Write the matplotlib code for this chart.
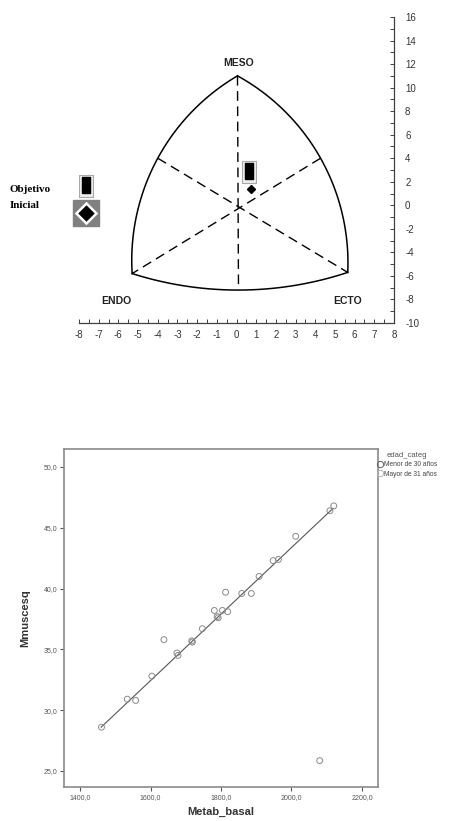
"""Somatocarta (objetivo / inicial) y dispersión Metab_basal vs Mmuscesq"""
import numpy as np
import matplotlib
matplotlib.use('Agg')
import matplotlib.pyplot as plt
from matplotlib.ticker import MultipleLocator, FuncFormatter
from matplotlib.lines import Line2D

plt.rcParams['font.family'] = ['Liberation Sans', 'DejaVu Sans']
plt.rcParams['axes.unicode_minus'] = False

# ---- somatocarta: vértices y puntos medios del contorno ----
apex_meso = (0.05, 11.0)
esq_endo = (-5.3, -5.8)
esq_ecto = (5.65, -5.7)
medio_izq = (-4.0, 4.0)
medio_der = (4.27, 4.0)
medio_inf = (0.1, -7.2)
base_vertical = (0.1, -6.8)

# somatotipos
objetivo_x, objetivo_y = [0.62], [2.8]
inicial_x, inicial_y = [0.72], [1.36]

etiquetas = ['MESO', 'ENDO', 'ECTO']
etiq_x = [0.1, -6.1, 5.65]
etiq_y = [12.1, -8.15, -8.15]

# ---- dispersión ----
metab_basal = [1461, 1534, 1558, 1604, 1638, 1675, 1678, 1717, 1719, 1747,
               1781, 1789, 1792, 1804, 1813, 1819, 1859, 1886, 1908, 1948,
               1963, 2012, 2109, 2120, 2080]
mmuscesq = [28.6, 30.9, 30.8, 32.8, 35.8, 34.7, 34.5, 35.7, 35.6, 36.7,
            38.2, 37.7, 37.6, 38.2, 39.7, 38.1, 39.6, 39.6, 41.0, 42.3,
            42.4, 44.3, 46.4, 46.8, 25.85]
recta_x = [1460, 2118]
recta_y = [28.6, 46.6]
grupos = ['Menor de 30 años', 'Mayor de 31 años']


def arco(ax, p0, pm, p1, n=120):
    """arco de circunferencia (en pantalla) que pasa por tres puntos"""
    T = ax.transData
    a, b, c = T.transform([p0, pm, p1])
    A = 2 * np.array([b - a, c - a])
    rhs = [b @ b - a @ a, c @ c - a @ a]
    cen = np.linalg.solve(A, rhs)
    r = np.hypot(*(a - cen))
    t0 = np.arctan2(*(a - cen)[::-1])
    tm = np.arctan2(*(b - cen)[::-1])
    t1 = np.arctan2(*(c - cen)[::-1])
    d1 = (t1 - t0) % (2 * np.pi)
    dm = (tm - t0) % (2 * np.pi)
    if dm > d1:
        d1 = d1 - 2 * np.pi
    t = t0 + np.linspace(0, d1, n)
    pts = np.column_stack([cen[0] + r * np.cos(t), cen[1] + r * np.sin(t)])
    return T.inverted().transform(pts)


fig = plt.figure(figsize=(4.57, 8.21), dpi=100)

# === arriba: somatocarta ===
ax = fig.add_axes([79 / 457, 1 - 323 / 821, 315 / 457, 306 / 821])
ax.set_xlim(-8, 8)
ax.set_ylim(-10, 16)
for s in ['left', 'top']:
    ax.spines[s].set_visible(False)
for s in ['bottom', 'right']:
    ax.spines[s].set_color('#404040')
    ax.spines[s].set_linewidth(0.9)
ax.yaxis.tick_right()
ax.xaxis.set_major_locator(MultipleLocator(1))
ax.xaxis.set_minor_locator(MultipleLocator(0.5))
ax.yaxis.set_major_locator(MultipleLocator(2))
ax.yaxis.set_minor_locator(MultipleLocator(1))
ax.tick_params(which='both', direction='in', length=3, width=0.7, color='#404040',
               labelsize=7, labelcolor='#333333')
ax.tick_params(axis='x', pad=5)
ax.tick_params(axis='y', pad=8)

for p0, pm, p1 in [(esq_endo, medio_izq, apex_meso),
                   (apex_meso, medio_der, esq_ecto),
                   (esq_ecto, medio_inf, esq_endo)]:
    xy = arco(ax, p0, pm, p1)
    ax.plot(xy[:, 0], xy[:, 1], color='black', lw=1.1)

dash = (0, (7, 4))
ax.plot([apex_meso[0], base_vertical[0]], [apex_meso[1], base_vertical[1]],
        color='black', lw=1, linestyle=dash)
ax.plot([medio_izq[0], esq_ecto[0]], [medio_izq[1], esq_ecto[1]],
        color='black', lw=1, linestyle=dash)
ax.plot([medio_der[0], esq_endo[0]], [medio_der[1], esq_endo[1]],
        color='black', lw=1, linestyle=dash)

for t, x, y in zip(etiquetas, etiq_x, etiq_y):
    ax.text(x, y, t, ha='center', va='center', fontsize=7.5, fontweight='bold',
            color='#222222')

rect_caja = [(-0.32, -0.5), (0.32, -0.5), (0.32, 0.5), (-0.32, 0.5), (-0.32, -0.5)]
rect_negro = [(-0.25, -0.5), (0.25, -0.5), (0.25, 0.5), (-0.25, 0.5), (-0.25, -0.5)]


def icono_objetivo(x, y):
    ax.plot(x, y, marker=rect_caja, ms=15.5, mfc='#eeeeee', mec='#a8a8a8',
            mew=0.8, ls='none', clip_on=False)
    ax.plot(x, np.array(y) + 0.15, marker=rect_negro, ms=11, mfc='black', mec='black',
            ls='none', clip_on=False)


icono_objetivo(objetivo_x, objetivo_y)
ax.plot(inicial_x, inicial_y, marker='D', ms=3.8, color='black', ls='none')

# leyenda a la izquierda
icono_objetivo([-7.66], [1.6])
ax.plot([-7.66], [-0.64], marker='s', ms=18.5, mfc='#808080', mec='#808080',
        ls='none', clip_on=False)
ax.plot([-7.66], [-0.64], marker='D', ms=10.5, mfc='black', mec='white', mew=1.8,
        ls='none', clip_on=False)
fig.text(10 / 457, 1 - 190 / 821, 'Objetivo', ha='left', va='center', fontsize=8,
         fontweight='bold', family=['Liberation Serif', 'DejaVu Serif'])
fig.text(10 / 457, 1 - 206 / 821, 'Inicial', ha='left', va='center', fontsize=8,
         fontweight='bold', family=['Liberation Serif', 'DejaVu Serif'])

# === abajo: dispersión ===
ax2 = fig.add_axes([64 / 457, 1 - 787 / 821, 314 / 457, 338 / 821])
ax2.set_xlim(1354.6, 2245.4)
ax2.set_ylim(23.68, 51.48)
for s in ax2.spines.values():
    s.set_color('#8a8a8a')
    s.set_linewidth(1.2)
ax2.set_xticks(range(1400, 2201, 200))
ax2.set_yticks(range(25, 51, 5))
coma = FuncFormatter(lambda v, p: f'{v:.1f}'.replace('.', ','))
ax2.xaxis.set_major_formatter(coma)
ax2.yaxis.set_major_formatter(coma)
ax2.tick_params(direction='out', length=3, width=0.8, color='#555555',
                labelsize=5, labelcolor='#555555', pad=2)

ax2.plot(recta_x, recta_y, color='#555555', lw=0.8)
ax2.scatter(metab_basal, mmuscesq, s=18, facecolors='none', edgecolors='#8a8a8a',
            linewidths=0.7, zorder=3)

ax2.set_xlabel('Metab_basal', fontsize=8, fontweight='bold', color='#333333')
ax2.set_ylabel('Mmuscesq', fontsize=8, fontweight='bold', color='#333333')
ax2.xaxis.set_label_coords(0.5, -0.06)
ax2.yaxis.set_label_coords(-0.108, 0.5)

handles = [Line2D([], [], marker='o', ls='none', mfc='none', mec=c, mew=0.7, ms=4.5)
           for c in ['#606060', '#b5b5b5']]
leg = ax2.legend(handles, grupos, title='edad_categ', loc='upper left',
                 bbox_to_anchor=(377 / 457, 1 - 452 / 821), bbox_transform=fig.transFigure,
                 frameon=False, fontsize=4.8, title_fontsize=5.5, borderpad=0,
                 borderaxespad=0, handlelength=0.8, handletextpad=0.2,
                 labelspacing=0.35, alignment='center')
for t in leg.get_texts():
    t.set_color('#444444')
leg.get_title().set_color('#555555')

fig.savefig('out.png', dpi=100)
